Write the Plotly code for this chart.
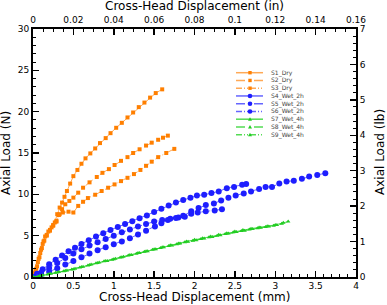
import plotly.graph_objects as go

# ---------------- data ----------------
S1_x = [0, 0.03, 0.06, 0.09, 0.12, 0.15, 0.19, 0.23, 0.27, 0.30, 0.33, 0.36, 0.39, 0.42, 0.46, 0.50, 0.55, 0.60, 0.65, 0.71, 0.77, 0.83, 0.90, 0.96, 1.03, 1.10, 1.17, 1.24, 1.31, 1.38, 1.45, 1.52, 1.60]
S1_y = [0, 0.8, 1.8, 2.9, 4.0, 4.9, 5.5, 6.0, 6.6, 7.6, 8.4, 9.0, 9.7, 10.4, 11.3, 12.2, 12.95, 13.7, 14.35, 14.95, 15.55, 16.2, 16.8, 17.4, 18.05, 18.65, 19.3, 19.9, 20.55, 21.1, 21.7, 22.25, 22.7]

S2_x = [0, 0.04, 0.07, 0.10, 0.13, 0.17, 0.21, 0.25, 0.29, 0.32, 0.36, 0.40, 0.45, 0.50, 0.56, 0.62, 0.70, 0.79, 0.86, 0.94, 1.01, 1.09, 1.17, 1.24, 1.32, 1.40, 1.47, 1.55, 1.61, 1.67]
S2_y = [0, 1.0, 2.2, 3.3, 4.3, 5.0, 5.6, 6.3, 6.7, 7.5, 8.2, 8.8, 9.2, 9.6, 10.2, 10.8, 11.45, 12.1, 12.6, 13.05, 13.55, 14.05, 14.5, 15.0, 15.45, 15.9, 16.25, 16.6, 16.85, 17.1]

S3_x = [0, 0.025, 0.05, 0.08, 0.11, 0.14, 0.17, 0.21, 0.25, 0.29, 0.33, 0.37, 0.44, 0.50, 0.56, 0.62, 0.68, 0.77, 0.85, 0.93, 1.01, 1.09, 1.17, 1.25, 1.33, 1.40, 1.47, 1.55, 1.65, 1.75]
S3_y = [0, 0.5, 1.3, 2.4, 3.5, 4.4, 5.1, 5.7, 6.2, 6.8, 7.6, 7.8, 7.9, 7.8, 8.6, 9.1, 9.55, 9.95, 10.4, 10.8, 11.2, 11.6, 12.0, 12.45, 12.95, 13.45, 13.95, 14.5, 15.0, 15.5]

S4_x = [0, 0.05, 0.12, 0.2, 0.28, 0.36, 0.44, 0.52, 0.6, 0.69, 0.78, 0.87, 0.96, 1.05, 1.14, 1.23, 1.32, 1.41, 1.5, 1.59, 1.68, 1.77, 1.86, 1.95, 2.03, 2.12, 2.21, 2.3, 2.4, 2.49, 2.59, 2.64]
S4_y = [0, 0.4, 0.95, 1.55, 2.1, 2.6, 3.1, 3.55, 4.0, 4.45, 4.9, 5.3, 5.7, 6.05, 6.4, 6.75, 7.1, 7.45, 7.85, 8.25, 8.65, 9.0, 9.3, 9.6, 9.85, 9.95, 10.15, 10.35, 10.75, 10.9, 11.15, 11.25]

S5_x = [0, 0.1, 0.2, 0.3, 0.4, 0.5, 0.6, 0.7, 0.8, 0.9, 1.0, 1.1, 1.2, 1.3, 1.4, 1.51, 1.59, 1.67, 1.77, 1.86, 1.96, 2.05, 2.14, 2.24, 2.33, 2.42, 2.51, 2.61, 2.70, 2.80, 2.88, 2.96, 3.05, 3.14, 3.23, 3.33, 3.42, 3.52, 3.62]
S5_y = [0, 0.3, 0.65, 1.05, 1.5, 1.95, 2.4, 2.85, 3.25, 3.6, 3.95, 4.3, 4.7, 5.15, 5.6, 6.1, 6.5, 6.9, 7.15, 7.4, 7.95, 8.35, 8.7, 8.9, 9.25, 9.6, 9.85, 10.1, 10.35, 10.65, 10.9, 10.9, 11.3, 11.55, 11.65, 11.9, 12.15, 12.35, 12.55]

S6_x = [0, 0.1, 0.2, 0.3, 0.4, 0.5, 0.6, 0.7, 0.8, 0.9, 1.0, 1.1, 1.2, 1.3, 1.4, 1.5, 1.6, 1.7, 1.8, 1.88, 1.96, 2.04, 2.14, 2.25, 2.34]
S6_y = [0, 0.5, 1.1, 1.7, 2.3, 2.85, 3.35, 3.8, 4.2, 4.6, 5.0, 5.4, 5.75, 6.1, 6.4, 6.7, 6.9, 7.05, 7.2, 7.3, 7.65, 7.8, 7.95, 8.05, 8.2]

S7_x = [0, 0.1, 0.2, 0.3, 0.4, 0.5, 0.6, 0.7, 0.8, 0.9, 1.0, 1.1, 1.2, 1.3, 1.4, 1.5, 1.6, 1.7, 1.8, 1.9, 2.0, 2.1, 2.2, 2.3, 2.4, 2.5, 2.6, 2.7, 2.8, 2.9, 3.0, 3.1, 3.16]
S7_y = [0, 0.15, 0.35, 0.55, 0.75, 0.95, 1.2, 1.45, 1.7, 1.95, 2.15, 2.4, 2.65, 2.9, 3.1, 3.35, 3.6, 3.85, 4.05, 4.3, 4.5, 4.7, 4.9, 5.1, 5.3, 5.5, 5.7, 5.85, 6.0, 6.15, 6.3, 6.55, 6.7]

S8_x = [0, 0.12, 0.22, 0.32, 0.42, 0.52, 0.62, 0.72, 0.82, 0.92, 1.02, 1.12, 1.22, 1.32, 1.42, 1.52, 1.62, 1.72, 1.82, 1.92, 2.02, 2.12, 2.22, 2.32, 2.42, 2.52, 2.62, 2.72, 2.82, 2.92, 3.02, 3.08]
S8_y = [0, 0.2, 0.4, 0.6, 0.8, 1.0, 1.25, 1.5, 1.75, 1.95, 2.2, 2.45, 2.65, 2.9, 3.1, 3.35, 3.6, 3.8, 4.05, 4.25, 4.45, 4.65, 4.85, 5.05, 5.25, 5.45, 5.6, 5.8, 5.95, 6.1, 6.3, 6.45]

S9_x = [0, 0.08, 0.18, 0.28, 0.38, 0.48, 0.58, 0.68, 0.78, 0.88, 0.98, 1.08, 1.18, 1.28, 1.38, 1.48, 1.58, 1.68, 1.78, 1.88, 1.98, 2.08, 2.18, 2.28, 2.38, 2.48, 2.58, 2.68, 2.78, 2.88, 2.98]
S9_y = [0, 0.12, 0.3, 0.5, 0.7, 0.92, 1.15, 1.4, 1.65, 1.9, 2.1, 2.35, 2.6, 2.8, 3.05, 3.3, 3.5, 3.75, 3.95, 4.2, 4.4, 4.6, 4.8, 5.0, 5.2, 5.4, 5.55, 5.75, 5.9, 6.05, 6.2]

series_names = ["S1_Dry", "S2_Dry", "S3_Dry", "S4_Wet_2h", "S5_Wet_2h", "S6_Wet_2h", "S7_Wet_4h", "S8_Wet_4h", "S9_Wet_4h"]
series_x = [S1_x, S2_x, S3_x, S4_x, S5_x, S6_x, S7_x, S8_x, S9_x]
series_y = [S1_y, S2_y, S3_y, S4_y, S5_y, S6_y, S7_y, S8_y, S9_y]

# ---------------- styles ----------------
ORANGE = "#FF7F00"; ORANGE_L = "rgba(255,140,30,0.75)"
BLUE = "#1E1EFF";   BLUE_L = "rgba(50,50,255,0.75)"
GREEN = "#22CC22";  GREEN_L = "rgba(40,210,40,0.8)"
DDOT = "6px,2px,1px,2px,1px,2px"
styles = [
    (ORANGE, ORANGE_L, "square", 4, "solid"),
    (ORANGE, ORANGE_L, "square", 4, "dash"),
    (ORANGE, ORANGE_L, "square", 4, DDOT),
    (BLUE, BLUE_L, "circle", 6, "solid"),
    (BLUE, BLUE_L, "circle", 6, "dash"),
    (BLUE, BLUE_L, "circle", 6, DDOT),
    (GREEN, GREEN_L, "triangle-up", 4, "solid"),
    (GREEN, GREEN_L, "triangle-up", 4, "dash"),
    (GREEN, GREEN_L, "triangle-up", 4, DDOT),
]

fig = go.Figure()
for name, xs, ys, (mc, lc, sym, ms, dash) in zip(series_names, series_x, series_y, styles):
    fig.add_trace(go.Scatter(
        x=xs, y=ys, name=name, mode="lines+markers",
        line=dict(color=lc, width=1, dash=dash),
        marker=dict(color=mc, symbol=sym, size=ms, line=dict(width=0)),
        showlegend=False, xaxis="x", yaxis="y", hoverinfo="skip"))

# empty trace so the secondary (in / lb) axes are drawn
fig.add_trace(go.Scatter(x=[], y=[], xaxis="x2", yaxis="y2", showlegend=False))

# ---------------- layout ----------------
W, H = 387, 305
ML, MR, MT, MB = 33, 31, 29, 28
PW, PH = W - ML - MR, H - MT - MB

def px2paper(px, py):
    return (px - ML) / PW, (H - MB - py) / PH

TICKFONT = dict(family="DejaVu Sans", size=9, color="black")
common = dict(showgrid=False, zeroline=False, showline=True, linewidth=2, linecolor="black",
              ticks="inside", ticklen=6, tickwidth=1.5, tickcolor="black", tickfont=TICKFONT,
              fixedrange=True)

fig.update_layout(
    width=W, height=H, margin=dict(l=ML, r=MR, t=MT, b=MB),
    paper_bgcolor="white", plot_bgcolor="white", showlegend=False,
    xaxis=dict(range=[0, 4], tick0=0, dtick=0.5, ticklabelstandoff=-1,
               minor=dict(dtick=0.1, ticks="inside", ticklen=3, tickwidth=1, tickcolor="black"), **common),
    xaxis2=dict(range=[0, 0.16], tick0=0, dtick=0.02, overlaying="x", side="top", anchor="y",
                minor=dict(dtick=0.005, ticks="inside", ticklen=3, tickwidth=1, tickcolor="black"), **common),
    yaxis=dict(range=[0, 30], tick0=0, dtick=5,
               minor=dict(dtick=1, ticks="inside", ticklen=3, tickwidth=1, tickcolor="black"), **common),
    yaxis2=dict(range=[0, 7], tick0=0, dtick=1, overlaying="y", side="right", anchor="x",
                minor=dict(dtick=0.2, ticks="inside", ticklen=3, tickwidth=1, tickcolor="black"), **common),
)

TITLEFONT = dict(family="DejaVu Sans", size=12, color="black")
annotations = []
x, y = px2paper(194.7, 6.5)
annotations.append(dict(text="Cross-Head Displacement (in)", x=x, y=y, xref="paper", yref="paper",
                        showarrow=False, xanchor="center", yanchor="middle", font=TITLEFONT))
x, y = px2paper(194.7, 297)
annotations.append(dict(text="Cross-Head Displacement (mm)", x=x, y=y, xref="paper", yref="paper",
                        showarrow=False, xanchor="center", yanchor="middle", font=TITLEFONT))
x, y = px2paper(6, 153)
annotations.append(dict(text="Axial Load (N)", x=x, y=y, xref="paper", yref="paper", textangle=-90,
                        showarrow=False, xanchor="center", yanchor="middle", font=TITLEFONT))
x, y = px2paper(380, 152)
annotations.append(dict(text="Axial Load (lb)", x=x, y=y, xref="paper", yref="paper", textangle=-90,
                        showarrow=False, xanchor="center", yanchor="middle", font=TITLEFONT))

# ---------------- manual compact legend ----------------
shapes = []
LEG_X0, LEG_X1, LEG_XM, LEG_TX = 236, 263, 250, 269
for i, (name, (mc, lc, sym, ms, dash)) in enumerate(zip(series_names, styles)):
    py = 72.7 + 7.75 * i
    xa, ya = px2paper(LEG_X0, py)
    xb, _ = px2paper(LEG_X1, py)
    shapes.append(dict(type="line", xref="paper", yref="paper", x0=xa, x1=xb, y0=ya, y1=ya,
                       line=dict(color=lc, width=1.5, dash=dash)))
    xm, _ = px2paper(LEG_XM, py)
    if sym == "square":
        shapes.append(dict(type="rect", xref="paper", yref="paper", xsizemode="pixel", ysizemode="pixel",
                           xanchor=xm, yanchor=ya, x0=-1.7, x1=1.7, y0=-1.7, y1=1.7,
                           fillcolor=mc, line=dict(width=0)))
    elif sym == "circle":
        shapes.append(dict(type="circle", xref="paper", yref="paper", xsizemode="pixel", ysizemode="pixel",
                           xanchor=xm, yanchor=ya, x0=-2.3, x1=2.3, y0=-2.3, y1=2.3,
                           fillcolor=mc, line=dict(width=0)))
    else:
        shapes.append(dict(type="path", xref="paper", yref="paper", xsizemode="pixel", ysizemode="pixel",
                           xanchor=xm, yanchor=ya, path="M -2 -1.5 L 2 -1.5 L 0 2 Z",
                           fillcolor=mc, line=dict(width=0)))
    xt, _ = px2paper(LEG_TX, py)
    annotations.append(dict(text=name, x=xt, y=ya, xref="paper", yref="paper", showarrow=False,
                            xanchor="left", yanchor="middle",
                            font=dict(family="DejaVu Sans", size=6, color="#444444")))

fig.update_layout(annotations=annotations, shapes=shapes)
fig.write_html("out.html", config={"displayModeBar": False, "staticPlot": True},
               post_script="document.body.style.margin='0';document.body.style.overflow='hidden';")
